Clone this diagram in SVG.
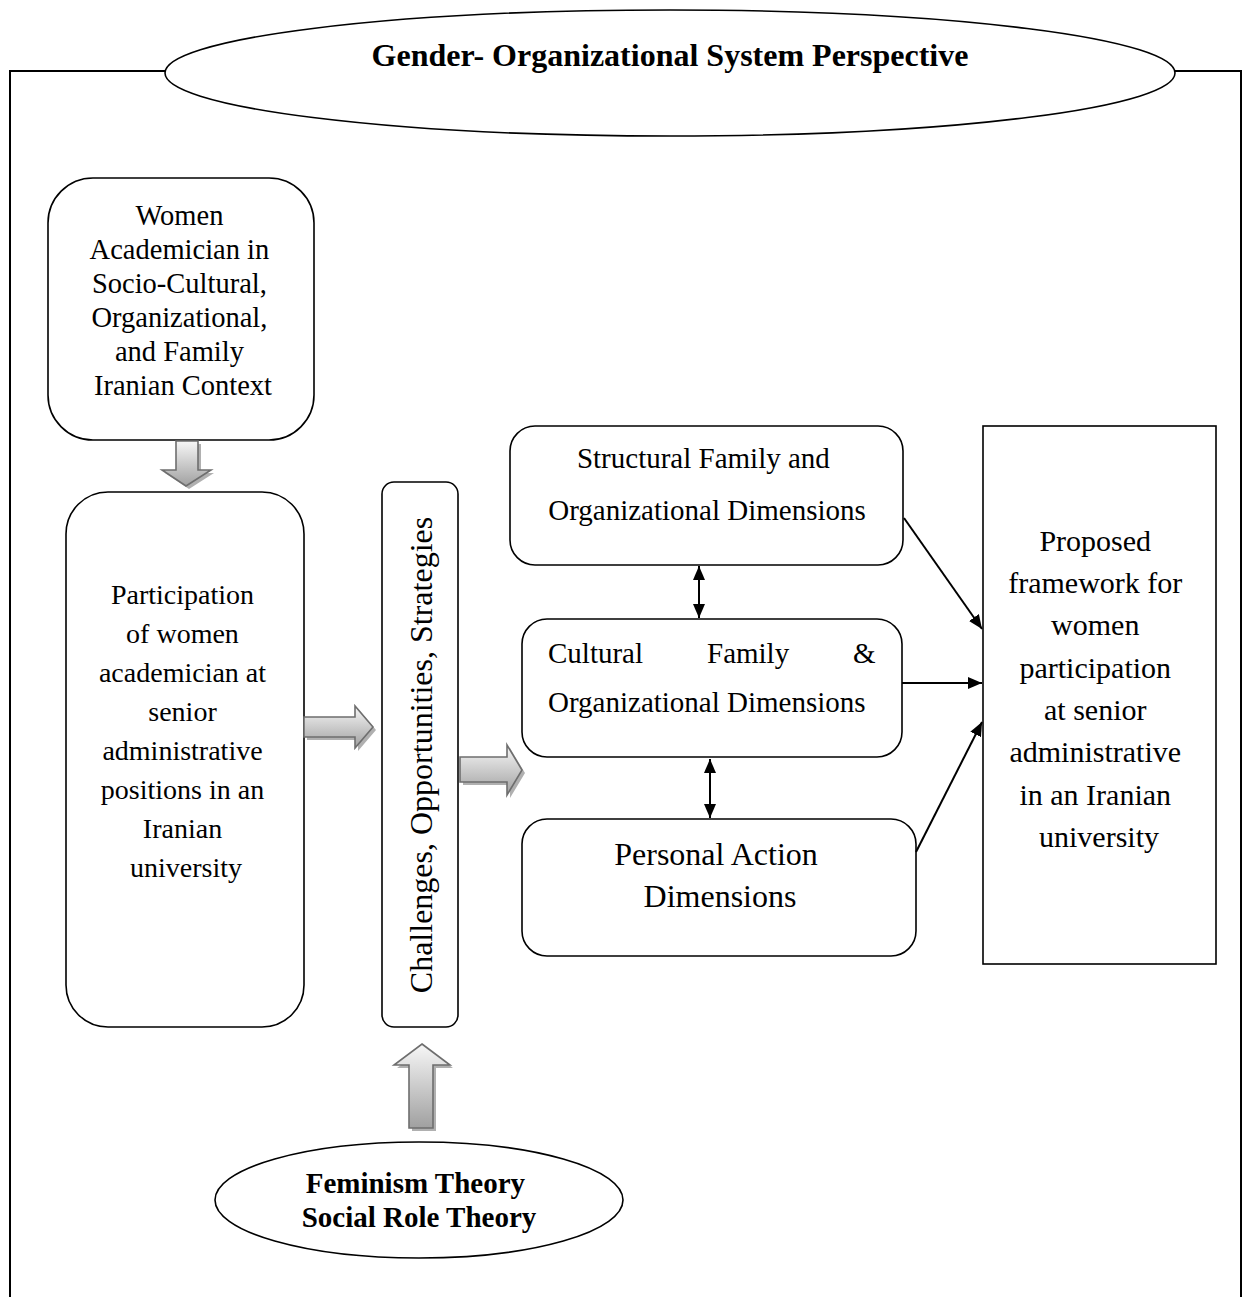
<svg xmlns="http://www.w3.org/2000/svg" width="1251" height="1297" viewBox="0 0 1251 1297">
<style>
.box{fill:#fff;stroke:#000;stroke-width:1.6}
.t{font-family:"Liberation Serif","Times New Roman",serif;fill:#000;text-anchor:middle}
.b{font-weight:bold}
.conn{stroke:#000;stroke-width:2;fill:none}
.blk{fill:url(#g);stroke:#6e6e6e;stroke-width:1.6}
.shd{fill:#b0b0b0}
</style>
<defs>
<linearGradient id="g" x1="0" y1="0" x2="0" y2="1">
<stop offset="0" stop-color="#f7f7f7"/>
<stop offset="1" stop-color="#a0a0a0"/>
</linearGradient>
<marker id="ah" viewBox="0 0 14 12" refX="14" refY="6" markerWidth="14" markerHeight="12" markerUnits="userSpaceOnUse" orient="auto-start-reverse">
<path d="M0,0 L14,6 L0,12 z" fill="#000"/>
</marker>
</defs>

<g id="frame">
<path d="M10,1297 V71 H167 M1173,71 H1241 V1297" class="conn" stroke-width="1.6"/>
</g>

<g id="title">
<ellipse cx="670" cy="73" rx="505" ry="63" class="box"/>
<text x="670" y="66" class="t b" font-size="32">Gender- Organizational System Perspective</text>
</g>

<g id="context">
<rect x="48" y="178" width="266" height="262" rx="45" class="box"/>
<text class="t" font-size="28.5">
<tspan x="183" y="225">Women</tspan>
<tspan x="183" y="259">Academician in</tspan>
<tspan x="183" y="293">Socio-Cultural,</tspan>
<tspan x="183" y="327">Organizational,</tspan>
<tspan x="183" y="361">and Family</tspan>
<tspan x="183" y="395">Iranian Context</tspan>
</text>
</g>

<g id="participation">
<rect x="66" y="492" width="238" height="535" rx="42" class="box"/>
<text class="t" font-size="28">
<tspan x="186" y="604">Participation</tspan>
<tspan x="186" y="643">of women</tspan>
<tspan x="186" y="682">academician at</tspan>
<tspan x="186" y="721">senior</tspan>
<tspan x="186" y="760">administrative</tspan>
<tspan x="186" y="799">positions in an</tspan>
<tspan x="186" y="838">Iranian</tspan>
<tspan x="186" y="877">university</tspan>
</text>
</g>

<g id="challenges">
<rect x="382" y="482" width="76" height="545" rx="12" class="box"/>
<text class="t" font-size="32" transform="translate(432,755) rotate(-90)" x="0" y="0">Challenges, Opportunities, Strategies</text>
</g>

<g id="structural">
<rect x="510" y="426" width="393" height="139" rx="25" class="box"/>
<text class="t" font-size="29">
<tspan x="707" y="468">Structural Family and</tspan>
<tspan x="707" y="520">Organizational Dimensions</tspan>
</text>
</g>

<g id="cultural">
<rect x="522" y="619" width="380" height="138" rx="25" class="box"/>
<text class="t" font-size="29" text-anchor="start">
<tspan x="548" y="663" text-anchor="start">Cultural</tspan>
<tspan x="707" y="663" text-anchor="start">Family</tspan>
<tspan x="853" y="663" text-anchor="start">&amp;</tspan>
<tspan x="548" y="712" text-anchor="start">Organizational Dimensions</tspan>
</text>
</g>

<g id="personal">
<rect x="522" y="819" width="394" height="137" rx="25" class="box"/>
<text class="t" font-size="32">
<tspan x="720" y="865">Personal Action</tspan>
<tspan x="720" y="907">Dimensions</tspan>
</text>
</g>

<g id="proposed">
<rect x="983" y="426" width="233" height="538" class="box"/>
<text class="t" font-size="30">
<tspan x="1099" y="551">Proposed</tspan>
<tspan x="1099" y="593">framework for</tspan>
<tspan x="1099" y="635">women</tspan>
<tspan x="1099" y="678">participation</tspan>
<tspan x="1099" y="720">at senior</tspan>
<tspan x="1099" y="762">administrative</tspan>
<tspan x="1099" y="805">in an Iranian</tspan>
<tspan x="1099" y="847">university</tspan>
</text>
</g>

<g id="theories">
<ellipse cx="419" cy="1200" rx="204" ry="58" class="box"/>
<text class="t b" font-size="29">
<tspan x="419" y="1193">Feminism Theory</tspan>
<tspan x="419" y="1227">Social Role Theory</tspan>
</text>
</g>

<g id="connectors">
<g id="block-arrows">
<polygon class="shd" points="179,444 201,444 201,473 214,473 189,489 165,473 179,473"/>
<polygon class="blk" points="176,441 198,441 198,470 211,470 186,486 162,470 176,470"/>
<polygon class="shd" points="307,720 358,720 358,709 376,730 358,751 358,740 307,740"/>
<polygon class="blk" points="304,717 355,717 355,706 373,727 355,748 355,737 304,737"/>
<polygon class="shd" points="463,760 510,760 510,748 525,773 510,798 510,785 463,785"/>
<polygon class="blk" points="460,757 507,757 507,745 522,770 507,795 507,782 460,782"/>
<polygon class="shd" points="425,1047 453,1068 436,1068 436,1131 412,1131 412,1068 397,1068"/>
<polygon class="blk" points="422,1044 450,1065 433,1065 433,1128 409,1128 409,1065 394,1065"/>
</g>
<line x1="699" y1="566" x2="699" y2="618" class="conn" marker-start="url(#ah)" marker-end="url(#ah)"/>
<line x1="710" y1="759" x2="710" y2="818" class="conn" marker-start="url(#ah)" marker-end="url(#ah)"/>
<line x1="904" y1="518" x2="982" y2="629" class="conn" marker-end="url(#ah)"/>
<line x1="902" y1="683" x2="982" y2="683" class="conn" marker-end="url(#ah)"/>
<line x1="916" y1="852" x2="982" y2="722" class="conn" marker-end="url(#ah)"/>
</g>
</svg>
